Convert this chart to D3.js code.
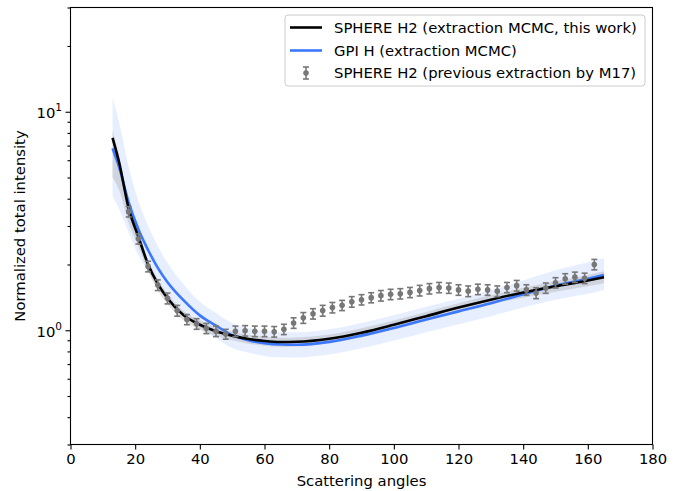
<!DOCTYPE html>
<html><head><meta charset="utf-8">
<script src="https://cdn.jsdelivr.net/npm/d3@7"></script>
<style>
body{margin:0;background:#fff}
text{font-family:"DejaVu Sans",sans-serif;fill:#000}
</style>
</head><body><svg id="c" width="685" height="491"></svg>
<script>
// ---- data ----
const curveAngles = [13, 15, 18, 21, 24, 27, 30, 35, 40, 45, 50, 55, 60, 65, 70, 80, 90, 100, 110, 120, 130, 140, 150, 160, 165];
const sphereMcmc   = [7.6, 5.9, 3.6, 2.68, 2.0, 1.63, 1.40, 1.17, 1.06, 0.99, 0.945, 0.912, 0.893, 0.884, 0.886, 0.915, 0.975, 1.06, 1.16, 1.27, 1.38, 1.49, 1.59, 1.69, 1.75];
const sphereLow    = [5.0, 4.4, 3.1, 2.42, 1.86, 1.52, 1.32, 1.11, 1.005, 0.94, 0.9, 0.868, 0.85, 0.84, 0.842, 0.87, 0.927, 1.007, 1.1, 1.205, 1.31, 1.41, 1.5, 1.59, 1.64];
const sphereHigh   = [8.2, 6.3, 3.82, 2.82, 2.1, 1.71, 1.47, 1.225, 1.11, 1.035, 0.988, 0.954, 0.934, 0.925, 0.927, 0.956, 1.02, 1.108, 1.213, 1.33, 1.445, 1.565, 1.675, 1.79, 1.86];
const gpiMcmc      = [6.8, 5.6, 3.85, 2.9, 2.33, 1.93, 1.66, 1.37, 1.17, 1.05, 0.95, 0.9, 0.872, 0.86, 0.858, 0.885, 0.945, 1.025, 1.12, 1.22, 1.33, 1.46, 1.6, 1.72, 1.79];
const gpiLow       = [4.1, 3.6, 2.8, 2.2, 1.86, 1.58, 1.39, 1.18, 1.02, 0.92, 0.83, 0.79, 0.763, 0.752, 0.75, 0.774, 0.827, 0.897, 0.98, 1.065, 1.16, 1.27, 1.38, 1.47, 1.53];
const gpiHigh      = [11.6, 9.0, 5.6, 3.9, 3.0, 2.43, 2.03, 1.62, 1.35, 1.2, 1.08, 1.025, 0.994, 0.98, 0.978, 1.01, 1.078, 1.17, 1.28, 1.395, 1.53, 1.69, 1.88, 2.05, 2.14];

const m17Angles = [18, 21, 24, 27, 30, 33, 36, 39, 42, 45, 48, 51, 54, 57, 60, 63, 66, 69, 72, 75, 78, 81, 84, 87, 90, 93, 96, 99, 102, 105, 108, 111, 114, 117, 120, 123, 126, 129, 132, 135, 138, 141, 144, 147, 150, 153, 156, 159, 162];
const m17Values = [3.49, 2.62, 1.96, 1.61, 1.40, 1.23, 1.12, 1.07, 1.02, 0.99, 0.96, 0.99, 0.995, 0.99, 0.99, 0.985, 1.01, 1.08, 1.14, 1.19, 1.23, 1.27, 1.30, 1.35, 1.38, 1.41, 1.44, 1.46, 1.47, 1.49, 1.52, 1.55, 1.57, 1.56, 1.53, 1.51, 1.54, 1.53, 1.51, 1.57, 1.60, 1.53, 1.48, 1.56, 1.65, 1.72, 1.75, 1.73, 2.0];
const m17Errors = [0.19, 0.14, 0.11, 0.09, 0.08, 0.07, 0.06, 0.06, 0.055, 0.055, 0.05, 0.055, 0.055, 0.055, 0.055, 0.055, 0.055, 0.06, 0.065, 0.065, 0.07, 0.07, 0.07, 0.075, 0.075, 0.075, 0.08, 0.08, 0.08, 0.08, 0.085, 0.085, 0.085, 0.085, 0.085, 0.085, 0.085, 0.085, 0.085, 0.085, 0.09, 0.085, 0.085, 0.085, 0.09, 0.095, 0.095, 0.095, 0.11];

const xTicks = [0, 20, 40, 60, 80, 100, 120, 140, 160, 180];
const yMajorTicks = [1, 10];
const yMajorExp = ["0", "1"];
const yMinorTicks = [0.3, 0.4, 0.5, 0.6, 0.7, 0.8, 0.9, 2, 3, 4, 5, 6, 7, 8, 9, 20, 30];
const legendLabels = ["SPHERE H2 (extraction MCMC, this work)", "GPI H (extraction MCMC)", "SPHERE H2 (previous extraction by M17)"];

// ---- layout ----
const M = {l: 70.5, r: 652.5, t: 7.5, b: 444.5};
const FS = 14.8;
const blue = "#3b78ff", grey = "#777777";

const svg = d3.select("#c");
const x = d3.scaleLinear().domain([0, 180]).range([M.l, M.r]);
const y = d3.scaleLog().domain([0.3, 30]).range([M.b, M.t]);

const idx = d3.range(curveAngles.length);
const areaGen = (lo, hi) => d3.area().x(i => x(curveAngles[i])).y0(i => y(lo[i])).y1(i => y(hi[i])).curve(d3.curveMonotoneX);
const lineGen = (v) => d3.line().x(i => x(curveAngles[i])).y(i => y(v[i])).curve(d3.curveMonotoneX);

svg.append("path").attr("d", areaGen(gpiLow, gpiHigh)(idx)).attr("fill", blue).attr("fill-opacity", 0.12);
svg.append("path").attr("d", areaGen(sphereLow, sphereHigh)(idx)).attr("fill", "#a8a8a8").attr("fill-opacity", 0.38);
svg.append("path").attr("d", lineGen(gpiMcmc)(idx)).attr("fill", "none").attr("stroke", blue).attr("stroke-width", 2.6);
svg.append("path").attr("d", lineGen(sphereMcmc)(idx)).attr("fill", "none").attr("stroke", "#000").attr("stroke-width", 2.6);

// error bars
const eb = svg.append("g").attr("stroke", grey).attr("stroke-width", 1.6);
m17Angles.forEach((a, i) => {
  const cx = x(a), y0 = y(m17Values[i] - m17Errors[i]), y1 = y(m17Values[i] + m17Errors[i]);
  eb.append("line").attr("x1", cx).attr("x2", cx).attr("y1", y0).attr("y2", y1);
  eb.append("line").attr("x1", cx - 3).attr("x2", cx + 3).attr("y1", y0).attr("y2", y0);
  eb.append("line").attr("x1", cx - 3).attr("x2", cx + 3).attr("y1", y1).attr("y2", y1);
  svg.append("circle").attr("cx", cx).attr("cy", y(m17Values[i])).attr("r", 2.8).attr("fill", grey);
});

// axes
const gx = svg.append("g").attr("transform", `translate(0,${M.b})`)
  .call(d3.axisBottom(x).tickValues(xTicks).tickSize(5).tickPadding(4).tickFormat(d3.format("d")));
gx.selectAll("text").attr("font-size", FS).attr("font-family", "DejaVu Sans");
const gyMin = svg.append("g").attr("transform", `translate(${M.l},0)`)
  .call(d3.axisLeft(y).tickValues(yMinorTicks).tickSize(3).tickFormat(""));
const gy = svg.append("g").attr("transform", `translate(${M.l},0)`)
  .call(d3.axisLeft(y).tickValues(yMajorTicks).tickSize(5).tickFormat(""));
[gx, gy, gyMin].forEach(g => { g.select(".domain").remove(); g.selectAll("line").attr("stroke", "#000").attr("stroke-width", 1.1); });
yMajorTicks.forEach((v, i) => {
  const t = svg.append("text").attr("x", M.l - 8.5).attr("y", y(v) + 6.5).attr("text-anchor", "end").attr("font-size", FS);
  t.append("tspan").text("10");
  t.append("tspan").attr("dy", -7).attr("font-size", 10.5).text(yMajorExp[i]);
});

svg.append("rect").attr("x", M.l).attr("y", M.t).attr("width", M.r - M.l).attr("height", M.b - M.t)
  .attr("fill", "none").attr("stroke", "#000").attr("stroke-width", 1.1);

svg.append("text").attr("x", (M.l + M.r) / 2).attr("y", 486).attr("text-anchor", "middle").attr("font-size", FS).text("Scattering angles");
svg.append("text").attr("transform", `translate(25,${(M.t + M.b) / 2}) rotate(-90)`).attr("text-anchor", "middle").attr("font-size", FS).text("Normalized total intensity");

// legend
const lg = svg.append("g");
lg.append("rect").attr("x", 285).attr("y", 15).attr("width", 360).attr("height", 71).attr("rx", 3)
  .attr("fill", "#fff").attr("fill-opacity", 0.8).attr("stroke", "#cccccc").attr("stroke-width", 1);
const ly = [27.5, 50.5, 73];
lg.append("line").attr("x1", 290).attr("x2", 322).attr("y1", ly[0]).attr("y2", ly[0]).attr("stroke", "#000").attr("stroke-width", 2.6);
lg.append("line").attr("x1", 290).attr("x2", 322).attr("y1", ly[1]).attr("y2", ly[1]).attr("stroke", blue).attr("stroke-width", 2.6);
const le = lg.append("g").attr("stroke", grey).attr("stroke-width", 1.6);
le.append("line").attr("x1", 306).attr("x2", 306).attr("y1", ly[2] - 6).attr("y2", ly[2] + 6);
le.append("line").attr("x1", 303).attr("x2", 309).attr("y1", ly[2] - 6).attr("y2", ly[2] - 6);
le.append("line").attr("x1", 303).attr("x2", 309).attr("y1", ly[2] + 6).attr("y2", ly[2] + 6);
lg.append("circle").attr("cx", 306).attr("cy", ly[2]).attr("r", 2.8).attr("fill", grey);
legendLabels.forEach((s, i) => {
  lg.append("text").attr("x", 334).attr("y", ly[i] + 5).attr("font-size", FS).text(s);
});
</script>
</body></html>
